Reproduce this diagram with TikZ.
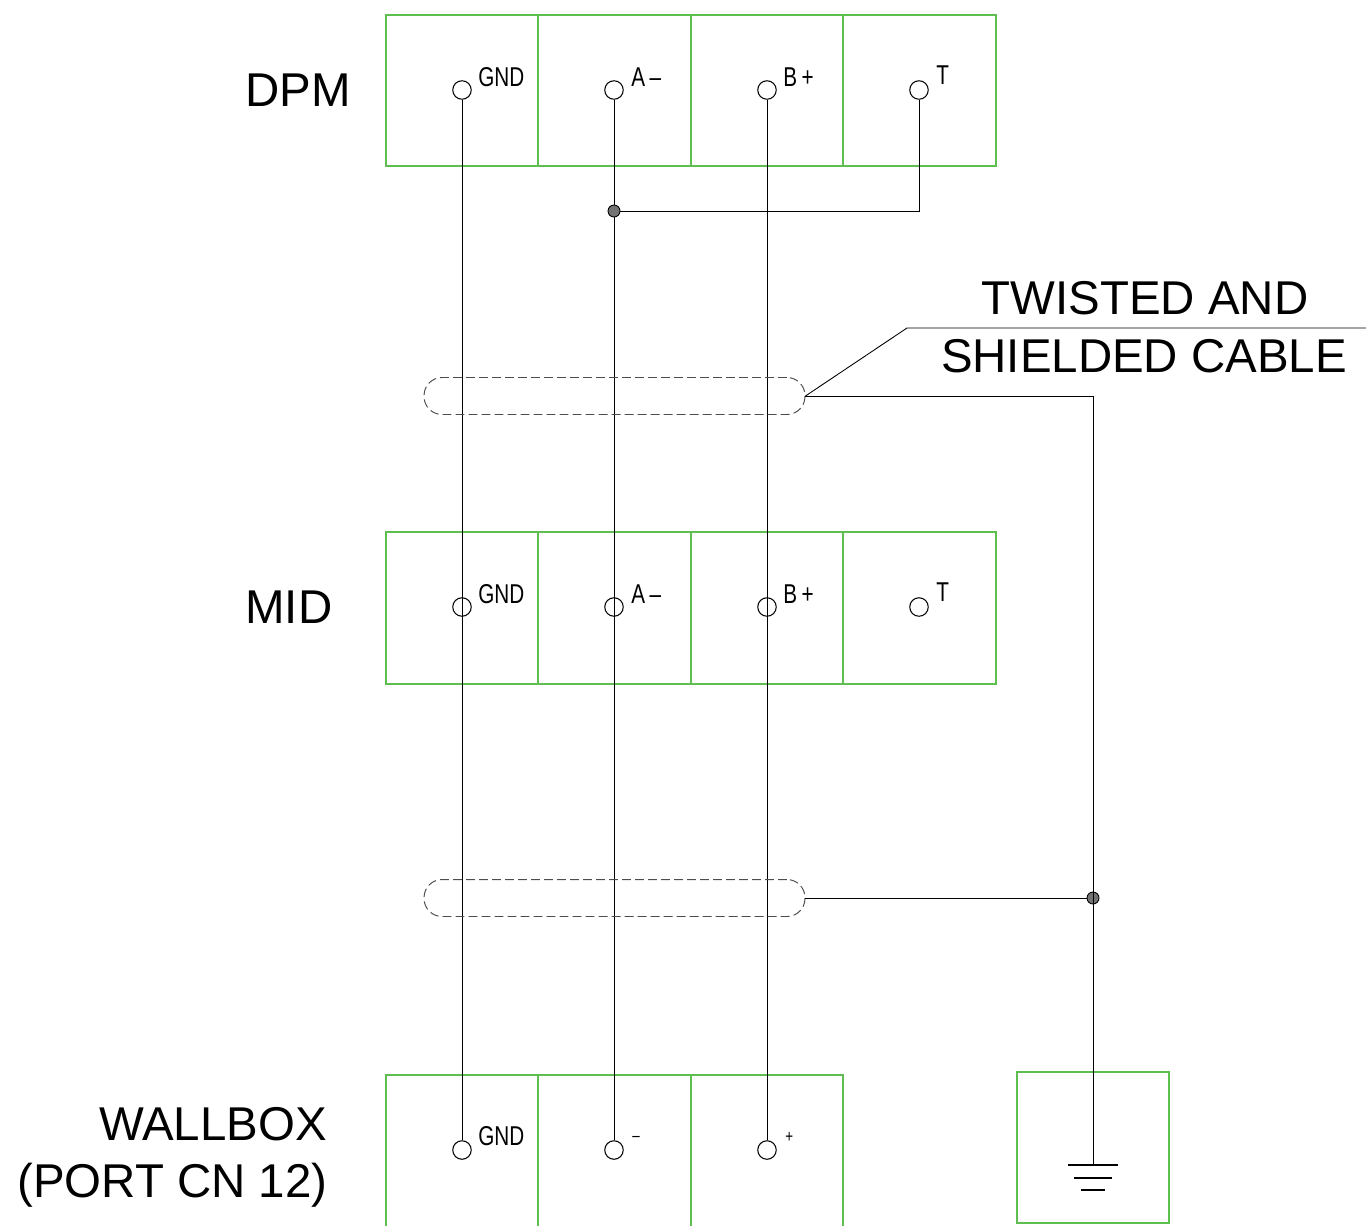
\documentclass[tikz,border=0pt]{standalone}
\usepackage{fontspec}
\setmainfont{Liberation Sans}
\newfontfamily\tagfont[FakeStretch=0.76]{Liberation Sans}
\usetikzlibrary{calc}
\definecolor{boxgreen}{RGB}{95,190,80}
\tikzset{
  cell/.style={draw=boxgreen, line width=1.1pt},
  term/.style={circle, draw, line width=0.6pt, inner sep=0pt, minimum size=0.37cm},
  junc/.style={circle, draw, line width=0.5pt, inner sep=0pt, minimum size=0.24cm, fill=black!55},
  tag/.style={anchor=base west, inner sep=0pt, font=\tagfont\fontsize{15.5}{15.5}\selectfont},
  big/.style={inner sep=0pt, font=\fontsize{27}{32}\selectfont},
  shield/.style={draw=black!70, dash pattern=on 5pt off 2.4pt, line width=0.55pt, rounded corners=0.36cm, minimum width=7.62cm, minimum height=0.74cm, inner sep=0pt},
  wire/.style={line width=0.5pt}
}
\begin{document}
\begin{tikzpicture}[x=0.02cm,y=-0.02cm]
\useasboundingbox (0,0) rectangle (1366,1225);
% boxes
\draw[cell] (386,15) rectangle (996,166);
\draw[cell] (386,532) rectangle (996,684);
\draw[cell] (386,1075) rectangle (843,1230);
\draw[cell] (1017,1072) rectangle (1169,1223);
\foreach \x in {538,691,843} {
  \draw[cell] (\x,15) -- (\x,166);
  \draw[cell] (\x,532) -- (\x,684);
}
\foreach \x in {538,691} \draw[cell] (\x,1075) -- (\x,1230);
% DPM terminals
\node[term] (dgnd) at (462,90) {};
\node[term] (da) at (614,90) {};
\node[term] (db) at (767,90) {};
\node[term] (dt) at (919,90) {};
\node[tag] at (478,86) {GND};
\node[tag] at (631,86) {A\,–};
\node[tag] at (783,86) {B\,+};
\node[tag] at (936,84) {T};
% MID terminals
\node[term] (mgnd) at (462,607) {};
\node[term] (ma) at (614,607) {};
\node[term] (mb) at (767,607) {};
\node[term] (mt) at (919,607) {};
\node[tag] at (478,603) {GND};
\node[tag] at (631,603) {A\,–};
\node[tag] at (783,603) {B\,+};
\node[tag] at (936,601) {T};
% WALLBOX terminals
\node[term] (wgnd) at (462,1150) {};
\node[term] (wa) at (614,1150) {};
\node[term] (wb) at (767,1150) {};
\node[tag] at (478,1145) {GND};
\node[tag, font=\tagfont\fontsize{10}{10}\selectfont] at (632,1141) {–};
\node[tag, font=\tagfont\fontsize{10}{10}\selectfont] at (785,1142) {+};
% wires
\draw[wire] (dgnd) -- (wgnd);
\draw[wire] (da) -- (wa);
\draw[wire] (db) -- (wb);
\node[junc] (j1) at (614,211) {};
\draw[wire] (dt) |- (j1);
% shields
\node[shield] (s1) at (614.5,396) {};
\node[shield] (s2) at (614.5,898) {};
\node[junc] (j2) at (1093,898) {};
\coordinate (gnd) at (1093,1165);
\draw[wire] (s1.east) -| (gnd);
\draw[wire] (s2.east) -- (j2);
\draw[line width=0.8pt] ($(gnd)+(-25,0)$) -- ($(gnd)+(25,0)$);
\draw[line width=0.8pt] ($(gnd)+(-19,13)$) -- ($(gnd)+(19,13)$);
\draw[line width=0.8pt] ($(gnd)+(-12,25)$) -- ($(gnd)+(12,25)$);
% leader
\coordinate (kink) at (907,328);
\coordinate (lend) at (1366,328);
\draw[wire] (s1.east) -- (kink) -- (lend);
% texts
\node[big, anchor=base west] (dpm) at (245,106) {DPM};
\node[big, anchor=base west] (mid) at (245,623) {MID};
\node[big, anchor=base east] (wb1) at (327,1140) {WALLBOX};
\node[big, anchor=base west] (wb2) at (17,1197) {(PORT CN 12)};
\node[big, anchor=base] (tw1) at (1145,314) {TWISTED AND};
\node[big, anchor=base] (tw2) at (1144,372) {SHIELDED CABLE};
\end{tikzpicture}
\end{document}
